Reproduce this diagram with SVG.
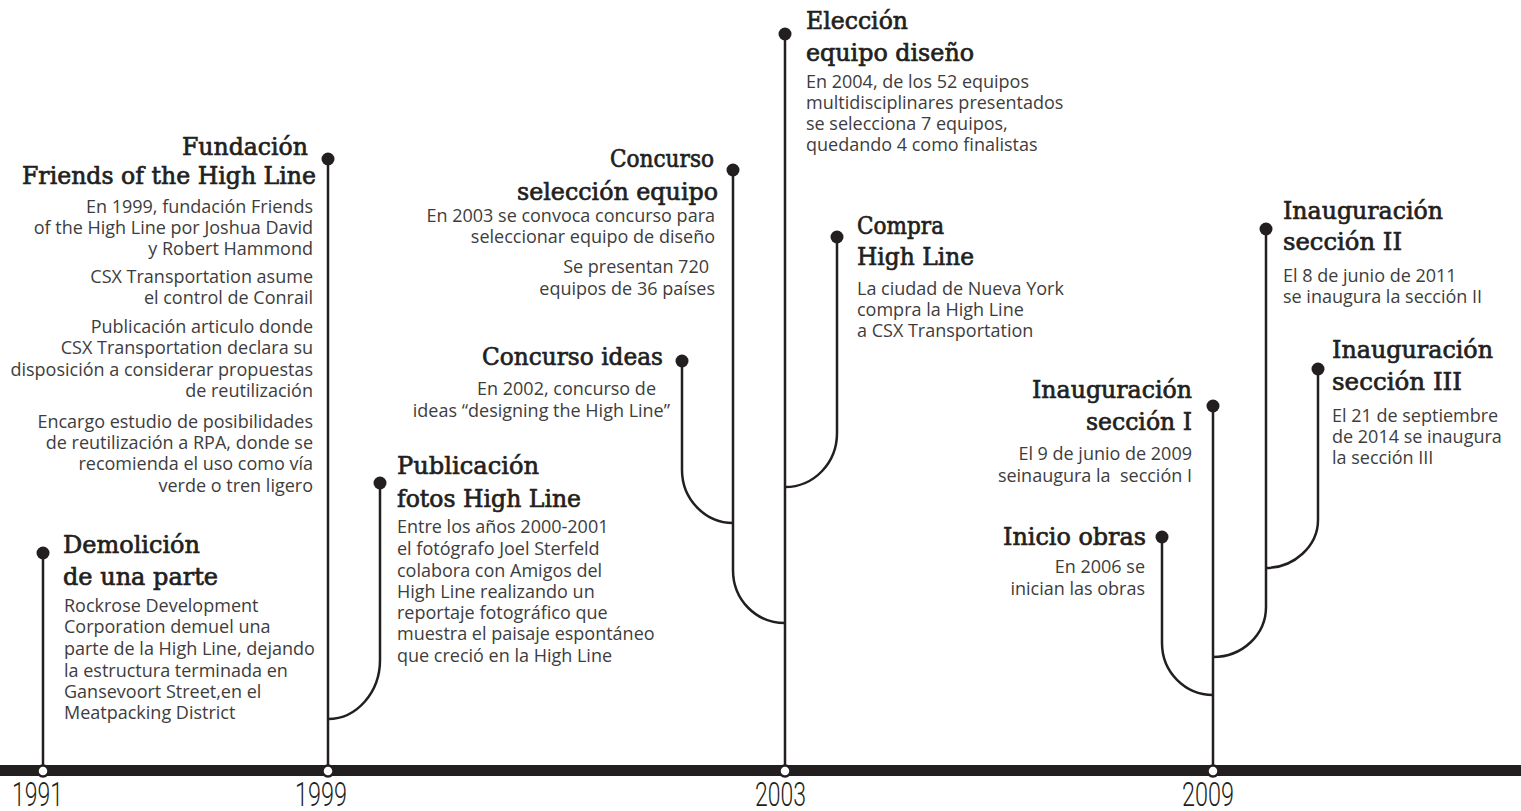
<svg xmlns="http://www.w3.org/2000/svg" width="1521" height="811" viewBox="0 0 1521 811">
<style>
.t{font-family:"DejaVu Serif","Liberation Serif",serif;font-size:24.5px;fill:#231f20;stroke:#231f20;stroke-width:0.7px}
.b{font-family:"Open Sans","Noto Sans",sans-serif;font-size:18px;fill:#3d3d3d}
.e{text-anchor:end}
.y{font-family:Roboto,"Liberation Sans Narrow",sans-serif;font-weight:300;font-size:33px;fill:#231f20}
.c{fill:none;stroke:#231f20;stroke-width:2.5}
.d{fill:#231f20}
.m{fill:#fff;stroke:#231f20;stroke-width:2.5}
</style>
<rect width="1521" height="811" fill="#fff"/>
<g id="connectors">
<path class="c" d="M43,553V771"/>
<path class="c" d="M328,159V771"/>
<path class="c" d="M785,34V771"/>
<path class="c" d="M1213,406V771"/>
<path class="c" d="M380,483V660C380,692 357,719 328,719"/>
<path class="c" d="M682,361V470C682,499 705,523 733,523"/>
<path class="c" d="M733,170V570C733,600 756,623 785,623"/>
<path class="c" d="M837,237V433C837,463 814,487 785,487"/>
<path class="c" d="M1162,537V643C1162,672 1185,695 1213,695"/>
<path class="c" d="M1318,369V520C1318,546 1294,568 1266,568"/>
<path class="c" d="M1266,229V607C1266,635 1242,657 1213,657"/>
</g>
<g id="timeline">
<rect x="0" y="765" width="1521" height="11" fill="#231f20"/>
<circle class="m" cx="43" cy="771" r="5.5"/>
<circle class="m" cx="328" cy="771" r="5.5"/>
<circle class="m" cx="785" cy="771" r="5.5"/>
<circle class="m" cx="1213" cy="771" r="5.5"/>
<text class="y" x="12" y="806" textLength="51" lengthAdjust="spacingAndGlyphs">1991</text>
<text class="y" x="295" y="806" textLength="52" lengthAdjust="spacingAndGlyphs">1999</text>
<text class="y" x="755" y="806" textLength="51" lengthAdjust="spacingAndGlyphs">2003</text>
<text class="y" x="1182" y="806" textLength="52" lengthAdjust="spacingAndGlyphs">2009</text>
</g>
<g id="demolicion">
<circle class="d" cx="43" cy="553" r="6.5"/>
<text class="t" x="63" y="553" textLength="137" lengthAdjust="spacingAndGlyphs">Demolición</text>
<text class="t" x="63" y="585" textLength="155" lengthAdjust="spacingAndGlyphs">de una parte</text>
<text class="b" x="64" y="612">Rockrose Development</text>
<text class="b" x="64" y="633">Corporation demuel una</text>
<text class="b" x="64" y="655">parte de la High Line, dejando</text>
<text class="b" x="64" y="677">la estructura terminada en</text>
<text class="b" x="64" y="698">Gansevoort Street,en el</text>
<text class="b" x="64" y="719">Meatpacking District</text>
</g>
<g id="fundacion">
<circle class="d" cx="328" cy="159" r="6.5"/>
<text class="t" x="182" y="155" textLength="126" lengthAdjust="spacingAndGlyphs">Fundación</text>
<text class="t" x="22" y="184" textLength="294" lengthAdjust="spacingAndGlyphs">Friends of the High Line</text>
<text class="b e" x="313" y="213">En 1999, fundación Friends</text>
<text class="b e" x="313" y="234">of the High Line por Joshua David</text>
<text class="b e" x="313" y="255">y Robert Hammond</text>
<text class="b e" x="313" y="283">CSX Transportation asume</text>
<text class="b e" x="313" y="304">el control de Conrail</text>
<text class="b e" x="313" y="333">Publicación articulo donde</text>
<text class="b e" x="313" y="354">CSX Transportation declara su</text>
<text class="b e" x="313" y="376">disposición a considerar propuestas</text>
<text class="b e" x="313" y="397">de reutilización</text>
<text class="b e" x="313" y="428">Encargo estudio de posibilidades</text>
<text class="b e" x="313" y="449">de reutilización a RPA, donde se</text>
<text class="b e" x="313" y="470">recomienda el uso como vía</text>
<text class="b e" x="313" y="492">verde o tren ligero</text>
</g>
<g id="publicacion">
<circle class="d" cx="380" cy="483" r="6.5"/>
<text class="t" x="397" y="474" textLength="142" lengthAdjust="spacingAndGlyphs">Publicación</text>
<text class="t" x="397" y="507" textLength="184" lengthAdjust="spacingAndGlyphs">fotos High Line</text>
<text class="b" x="397" y="533">Entre los años 2000-2001</text>
<text class="b" x="397" y="555">el fotógrafo Joel Sterfeld</text>
<text class="b" x="397" y="577">colabora con Amigos del</text>
<text class="b" x="397" y="598">High Line realizando un</text>
<text class="b" x="397" y="619">reportaje fotográfico que</text>
<text class="b" x="397" y="640">muestra el paisaje espontáneo</text>
<text class="b" x="397" y="662">que creció en la High Line</text>
</g>
<g id="concurso-ideas">
<circle class="d" cx="682" cy="361" r="6.5"/>
<text class="t" x="482" y="365" textLength="181" lengthAdjust="spacingAndGlyphs">Concurso ideas</text>
<text class="b e" x="656" y="395">En 2002, concurso de</text>
<text class="b e" x="670" y="417">ideas “designing the High Line”</text>
</g>
<g id="concurso-seleccion">
<circle class="d" cx="733" cy="170" r="6.5"/>
<text class="t" x="610" y="167" textLength="104" lengthAdjust="spacingAndGlyphs">Concurso</text>
<text class="t" x="517" y="200" textLength="201" lengthAdjust="spacingAndGlyphs">selección equipo</text>
<text class="b e" x="715" y="222">En 2003 se convoca concurso para</text>
<text class="b e" x="715" y="243">seleccionar equipo de diseño</text>
<text class="b e" x="709" y="273">Se presentan 720</text>
<text class="b e" x="715" y="295">equipos de 36 países</text>
</g>
<g id="eleccion">
<circle class="d" cx="785" cy="34" r="6.5"/>
<text class="t" x="806" y="29" textLength="102" lengthAdjust="spacingAndGlyphs">Elección</text>
<text class="t" x="806" y="61" textLength="168" lengthAdjust="spacingAndGlyphs">equipo diseño</text>
<text class="b" x="806" y="88">En 2004, de los 52 equipos</text>
<text class="b" x="806" y="109">multidisciplinares presentados</text>
<text class="b" x="806" y="130">se selecciona 7 equipos,</text>
<text class="b" x="806" y="151">quedando 4 como finalistas</text>
</g>
<g id="compra">
<circle class="d" cx="837" cy="237" r="6.5"/>
<text class="t" x="857" y="234" textLength="87" lengthAdjust="spacingAndGlyphs">Compra</text>
<text class="t" x="857" y="265" textLength="117" lengthAdjust="spacingAndGlyphs">High Line</text>
<text class="b" x="857" y="295">La ciudad de Nueva York</text>
<text class="b" x="857" y="316">compra la High Line</text>
<text class="b" x="857" y="337">a CSX Transportation</text>
</g>
<g id="inicio-obras">
<circle class="d" cx="1162" cy="537" r="6.5"/>
<text class="t" x="1003" y="545" textLength="143" lengthAdjust="spacingAndGlyphs">Inicio obras</text>
<text class="b e" x="1145" y="573">En 2006 se</text>
<text class="b e" x="1145" y="595">inician las obras</text>
</g>
<g id="seccion-1">
<circle class="d" cx="1213" cy="406" r="6.5"/>
<text class="t" x="1032" y="398" textLength="160" lengthAdjust="spacingAndGlyphs">Inauguración</text>
<text class="t" x="1086" y="430" textLength="106" lengthAdjust="spacingAndGlyphs">sección I</text>
<text class="b e" x="1192" y="460">El 9 de junio de 2009</text>
<text class="b e" x="1192" y="482" xml:space="preserve">seinaugura la  sección I</text>
</g>
<g id="seccion-2">
<circle class="d" cx="1266" cy="229" r="6.5"/>
<text class="t" x="1283" y="219" textLength="160" lengthAdjust="spacingAndGlyphs">Inauguración</text>
<text class="t" x="1283" y="250" textLength="119" lengthAdjust="spacingAndGlyphs">sección II</text>
<text class="b" x="1283" y="282">El 8 de junio de 2011</text>
<text class="b" x="1283" y="303">se inaugura la sección II</text>
</g>
<g id="seccion-3">
<circle class="d" cx="1318" cy="369" r="6.5"/>
<text class="t" x="1332" y="358" textLength="161" lengthAdjust="spacingAndGlyphs">Inauguración</text>
<text class="t" x="1332" y="390" textLength="130" lengthAdjust="spacingAndGlyphs">sección III</text>
<text class="b" x="1332" y="422">El 21 de septiembre</text>
<text class="b" x="1332" y="443">de 2014 se inaugura</text>
<text class="b" x="1332" y="464">la sección III</text>
</g>
</svg>
